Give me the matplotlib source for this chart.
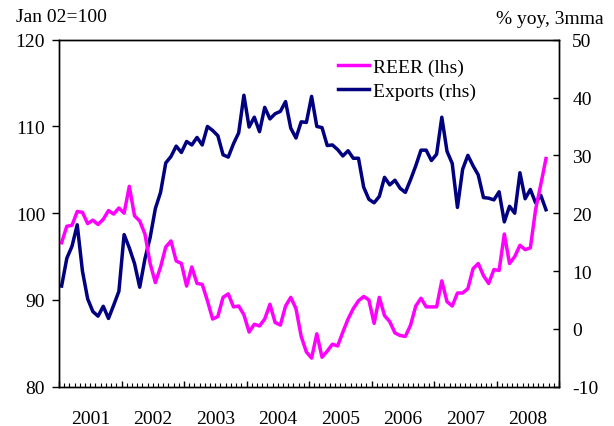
import matplotlib
matplotlib.use('Agg')
import matplotlib.pyplot as plt
import numpy as np
from matplotlib.ticker import FixedLocator, FuncFormatter, NullFormatter

plt.rcParams['font.family'] = ['Liberation Serif', 'DejaVu Serif']
plt.rcParams['axes.unicode_minus'] = False

years = ['2001', '2002', '2003', '2004', '2005', '2006', '2007', '2008']

# REER, Jan 02 = 100 (monthly, Jan 2001 - Oct 2008)
reer = [96.6, 98.5, 98.6, 100.2, 100.1, 98.8, 99.2, 98.7, 99.3, 100.3, 99.9, 100.6,
        100.0, 103.1, 99.7, 99.1, 97.6, 94.2, 92.0, 93.8, 96.1, 96.8, 94.5, 94.2,
        91.6, 93.8, 91.9, 91.8, 89.9, 87.8, 88.1, 90.3, 90.7, 89.2, 89.3, 88.3,
        86.3, 87.2, 87.0, 87.8, 89.5, 87.4, 87.1, 89.3, 90.3, 89.0, 85.8, 84.0,
        83.3, 86.1, 83.4, 84.1, 84.9, 84.7, 86.3, 87.8, 89.0, 89.9, 90.4, 90.0,
        87.3, 90.3, 88.2, 87.5, 86.2, 85.9, 85.8, 87.1, 89.3, 90.2, 89.2, 89.2,
        89.2, 92.2, 89.8, 89.3, 90.8, 90.8, 91.3, 93.6, 94.2, 92.8, 91.9, 93.5,
        93.4, 97.6, 94.2, 95.0, 96.3, 95.8, 96.0, 100.4, 103.3, 106.3]

# Exports, % yoy 3mma
exports = [7.4, 12.2, 14.3, 18.0, 10.0, 5.2, 3.0, 2.2, 3.9, 1.8, 4.1, 6.5,
           16.3, 14.0, 11.3, 7.2, 12.1, 15.8, 20.8, 23.6, 28.7, 29.8, 31.6, 30.5,
           32.4, 31.8, 33.1, 31.8, 35.0, 34.3, 33.4, 30.1, 29.7, 32.0, 33.9, 40.4,
           34.9, 36.6, 34.1, 38.3, 36.3, 37.2, 37.6, 39.3, 34.7, 33.0, 35.8, 35.7,
           40.2, 35.0, 34.8, 31.7, 31.8, 31.0, 29.9, 30.8, 29.5, 29.5, 24.5, 22.4,
           21.8, 22.9, 26.2, 24.9, 25.7, 24.3, 23.6, 25.8, 28.2, 30.9, 30.9, 29.1,
           30.2, 36.6, 30.7, 28.6, 21.0, 27.6, 30.0, 28.2, 26.6, 22.7, 22.6, 22.3,
           23.7, 18.5, 21.2, 20.0, 27.0, 22.5, 24.1, 21.8, 23.1, 20.6]

left_ticks = [80, 90, 100, 110, 120]
right_ticks = [-10, 0, 10, 20, 30, 40, 50]

FS = 14
months = np.arange(len(reer)) + 0.5

W, H = 614, 427
fig = plt.figure(figsize=(W / 100, H / 100), dpi=100)
ax = fig.add_axes([59 / W, 1 - 387.7 / H, 500 / W, 347 / H])
ax2 = ax.twinx()
ax.set_zorder(ax2.get_zorder() + 1)
ax.patch.set_visible(False)

l2, = ax2.plot(months, exports, color='#000080', lw=2.5, label='Exports (rhs)')
l1, = ax.plot(months, reer, color='#FF00FF', lw=2.5, label='REER (lhs)')

n_cat = 12 * len(years)
ax.set_xlim(0, n_cat)
ax.set_ylim(80, 120)
ax2.set_ylim(-10, 50)

ax.set_yticks(left_ticks)
ax.tick_params(axis='y', direction='out', length=5, width=1, pad=5, labelsize=FS)
ax2.set_yticks(right_ticks)
ax2.tick_params(axis='y', direction='in', length=4, width=1, pad=9.5, labelsize=FS)

ax.xaxis.set_major_locator(FixedLocator(np.arange(0, n_cat + 1, 12)))
ax.xaxis.set_major_formatter(NullFormatter())
ax.xaxis.set_minor_locator(FixedLocator(np.arange(0, n_cat + 1, 1)))

def minor_fmt(v, pos):
    k = int(round(v))
    if k % 12 == 6:
        return years[k // 12]
    return ''

ax.xaxis.set_minor_formatter(FuncFormatter(minor_fmt))
ax.tick_params(axis='x', which='major', direction='in', length=4.5, width=1)
ax.tick_params(axis='x', which='minor', direction='in', length=3, width=0.8,
               pad=17, labelsize=FS)
ax2.tick_params(axis='x', which='both', bottom=False, labelbottom=False)

for a in (ax, ax2):
    for s in a.spines.values():
        s.set_linewidth(1.0)
        s.set_color('black')

leg = ax.legend([l1, l2], ['REER (lhs)', 'Exports (rhs)'], loc='upper left',
                bbox_to_anchor=(338 / W, 1 - 59 / H), bbox_transform=fig.transFigure,
                frameon=False, borderpad=0, borderaxespad=0, handlelength=1.6,
                handletextpad=0.2, labelspacing=0.32, fontsize=FS)

fig.text(16 / W, 1 - 22 / H, 'Jan 02=100', ha='left', va='baseline', fontsize=FS)
fig.text(604 / W, 1 - 23.5 / H, '% yoy, 3mma', ha='right', va='baseline', fontsize=FS)

fig.savefig('out.png', dpi=100)
